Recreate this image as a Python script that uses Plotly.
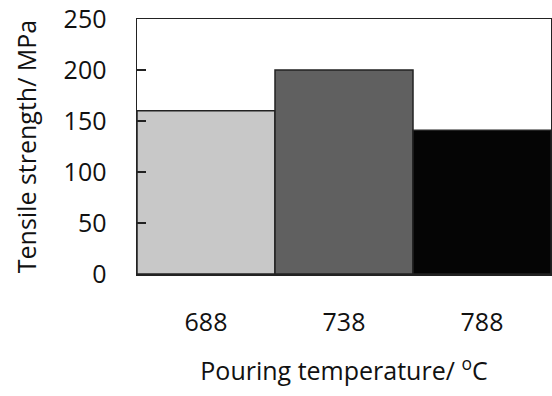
import plotly.graph_objects as go

categories = ["688", "738", "788"]
tensile_strength = [160, 200, 141]
bar_colors = ["#c8c8c8", "#606060", "#050505"]
y_ticks = [0, 50, 100, 150, 200, 250]

fig = go.Figure(
    go.Bar(
        x=categories,
        y=tensile_strength,
        marker=dict(color=bar_colors, line=dict(color="#222222", width=1.5)),
        width=1.0,
        hoverinfo="skip",
    )
)

font_family = "Open Sans, DejaVu Sans, sans-serif"

fig.update_layout(
    width=552,
    height=396,
    margin=dict(l=137, r=1, t=19, b=122),
    paper_bgcolor="white",
    plot_bgcolor="white",
    bargap=0,
    showlegend=False,
    font=dict(family=font_family, size=25, color="#111111"),
)

fig.update_xaxes(
    type="category",
    showline=True,
    linecolor="#222222",
    linewidth=1.5,
    mirror=True,
    ticks="outside",
    ticklen=25,
    tickcolor="rgba(0,0,0,0)",
    showgrid=False,
    automargin=False,
    title=dict(text="Pouring temperature/ <sup>o</sup>C", standoff=26, font=dict(size=25)),
)

fig.update_yaxes(
    range=[0, 250],
    tickvals=y_ticks,
    showline=True,
    linecolor="#222222",
    linewidth=1.5,
    mirror=True,
    ticks="inside",
    ticklen=9,
    tickwidth=1.5,
    tickcolor="#222222",
    showgrid=False,
    zeroline=False,
    automargin=False,
    ticklabelstandoff=24,
    ticklabeloverflow="allow",
    title=dict(text="Tensile strength/ MPa", standoff=20, font=dict(size=25)),
)

fig.write_html(
    "out.html",
    config={"displayModeBar": False, "staticPlot": True},
    post_script="document.body.style.margin='0';document.body.style.overflow='hidden';",
)
